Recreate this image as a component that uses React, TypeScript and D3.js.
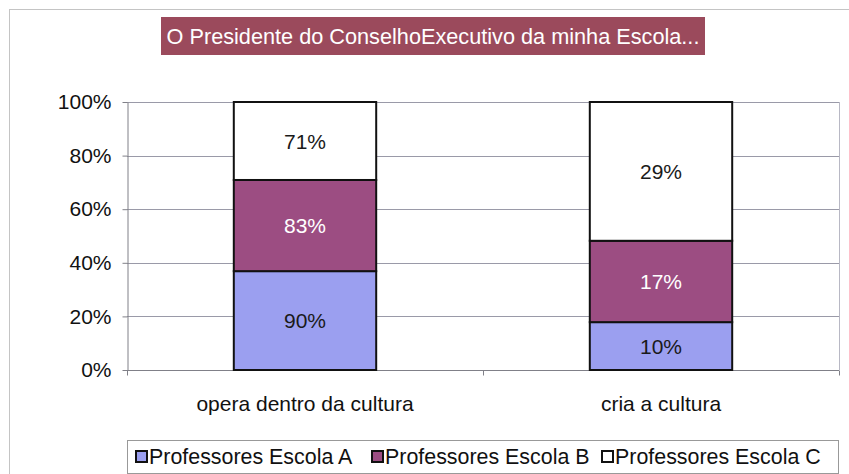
import React, { useEffect, useRef } from 'react';
import * as d3 from 'd3';

const categories = ['opera dentro da cultura', 'cria a cultura'];
const seriesNames = ['Professores Escola A', 'Professores Escola B', 'Professores Escola C'];
const escolaA = [90, 10];
const escolaB = [83, 17];
const escolaC = [71, 29];
const yTicks = [0, 0.2, 0.4, 0.6, 0.8, 1];
const colors = ['#9b9ff0', '#9c4d82', '#ffffff'];
const labelColors = ['#1a1a1a', '#ffffff', '#1a1a1a'];

export default function App() {
    const svgRef = useRef<SVGSVGElement>(null);

    useEffect(() => {
        const svg = d3.select(svgRef.current);
        svg.selectAll('*').remove();
        const font = '"Liberation Sans", Arial, sans-serif';

        // outer chart frame
        svg.append('rect')
            .attr('x', 9.5).attr('y', 9.5)
            .attr('width', 860).attr('height', 480)
            .attr('fill', '#fff')
            .attr('stroke', '#c4c4c4');

        const margin = { top: 102, left: 127 };
        const width = 839 - margin.left;
        const height = 370 - margin.top;

        const g = svg.append('g')
            .attr('transform', `translate(${margin.left},${margin.top})`);

        const x = d3.scaleBand().domain(categories).range([0, width]).paddingInner(0.6).paddingOuter(0.3);
        const y = d3.scaleLinear().domain([0, 1]).range([height, 0]);

        // gridlines
        g.selectAll('.grid')
            .data(yTicks.slice(1))
            .enter()
            .append('line')
            .attr('x1', 0).attr('x2', width)
            .attr('y1', d => Math.round(y(d)) + 0.5)
            .attr('y2', d => Math.round(y(d)) + 0.5)
            .attr('stroke', '#9a9aa8');

        // right border of plot area
        g.append('line')
            .attr('x1', width + 0.5).attr('x2', width + 0.5)
            .attr('y1', 0).attr('y2', height)
            .attr('stroke', '#b8b8c4');

        // y axis
        const yAxis = d3.axisLeft(y).tickValues(yTicks).tickFormat(d3.format('.0%')).tickSize(5).tickSizeOuter(0);
        const ya = g.append('g').attr('transform', 'translate(0.5,0)').call(yAxis);
        ya.select('.domain').attr('stroke', '#808088');
        ya.selectAll('line').attr('stroke', '#808088');
        ya.selectAll('text')
            .attr('x', -16)
            .attr('fill', '#111')
            .style('font-family', font)
            .style('font-size', '21px');

        // x axis
        const xa = g.append('g').attr('transform', `translate(0,${height + 0.5})`);
        xa.append('line').attr('x1', 0).attr('x2', width).attr('stroke', '#808088');
        [0, width / 2, width].forEach(t => {
            xa.append('line')
                .attr('x1', Math.round(t) + 0.5).attr('x2', Math.round(t) + 0.5)
                .attr('y1', 0).attr('y2', 5)
                .attr('stroke', '#808088');
        });
        categories.forEach(c => {
            xa.append('text')
                .attr('x', (x(c) as number) + x.bandwidth() / 2)
                .attr('y', 40)
                .attr('text-anchor', 'middle')
                .attr('fill', '#111')
                .style('font-family', font)
                .style('font-size', '21px')
                .text(c);
        });

        // stacked 100% bars
        const raw = [escolaA, escolaB, escolaC];
        categories.forEach((c, i) => {
            const total = raw.reduce((s, arr) => s + arr[i], 0);
            let acc = 0;
            raw.forEach((arr, k) => {
                const y0 = acc / total;
                acc += arr[i];
                const y1 = acc / total;
                const bx = x(c) as number;
                g.append('rect')
                    .attr('x', bx)
                    .attr('y', y(y1))
                    .attr('width', x.bandwidth())
                    .attr('height', y(y0) - y(y1))
                    .attr('fill', colors[k])
                    .attr('stroke', '#111')
                    .attr('stroke-width', 2);
                g.append('text')
                    .attr('x', bx + x.bandwidth() / 2)
                    .attr('y', (y(y0) + y(y1)) / 2)
                    .attr('dy', '0.36em')
                    .attr('text-anchor', 'middle')
                    .attr('fill', labelColors[k])
                    .style('font-family', font)
                    .style('font-size', '21px')
                    .text(`${arr[i]}%`);
            });
        });

        // title
        svg.append('rect')
            .attr('x', 161).attr('y', 17)
            .attr('width', 544).attr('height', 38)
            .attr('fill', '#9b4a5c');
        svg.append('text')
            .attr('x', 433).attr('y', 44)
            .attr('text-anchor', 'middle')
            .attr('fill', '#fff')
            .style('font-family', font)
            .style('font-size', '21.7px')
            .text('O Presidente do ConselhoExecutivo da minha Escola...');

        // legend
        svg.append('rect')
            .attr('x', 127.5).attr('y', 440.5)
            .attr('width', 711).attr('height', 33)
            .attr('fill', '#fff')
            .attr('stroke', '#999');
        const legendX = [135, 371, 601];
        seriesNames.forEach((s, k) => {
            svg.append('rect')
                .attr('x', legendX[k] + 1).attr('y', 451)
                .attr('width', 11).attr('height', 11)
                .attr('fill', colors[k])
                .attr('stroke', '#111')
                .attr('stroke-width', 2);
            svg.append('text')
                .attr('x', legendX[k] + 14).attr('y', 464)
                .attr('fill', '#111')
                .style('font-family', font)
                .style('font-size', '21.4px')
                .text(s);
        });
    }, []);

    return <svg ref={svgRef} width={849} height={474} style={{ position: 'absolute', left: 0, top: 0 }} />;
}
